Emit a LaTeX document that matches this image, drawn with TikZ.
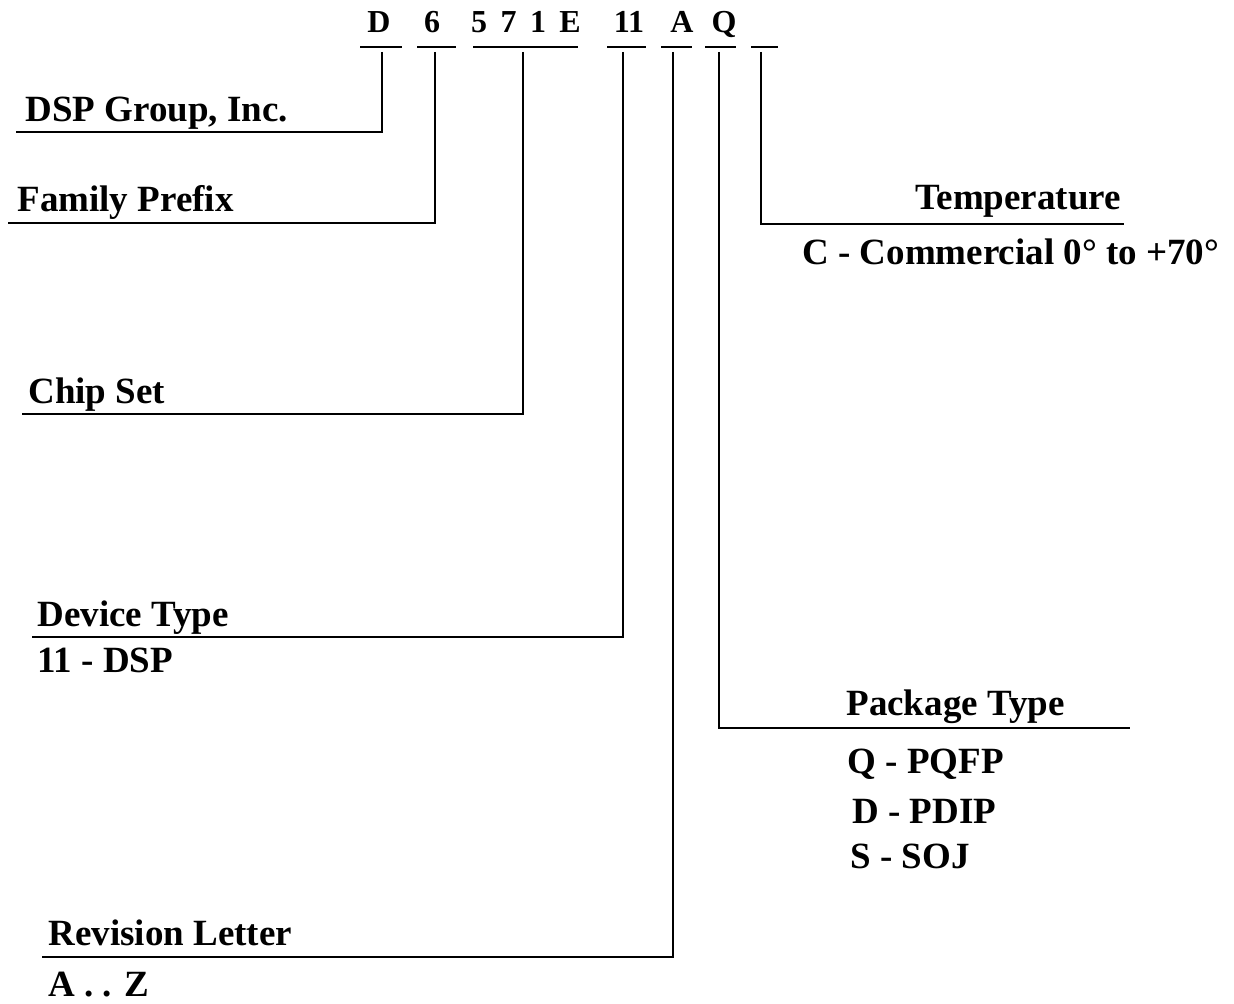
\documentclass[tikz,border=0pt]{standalone}
\usepackage{fontspec}
\setmainfont{Liberation Serif}
\begin{document}
\begin{tikzpicture}[x=0.5pt,y=-0.5pt,
  lbl/.style={anchor=base west, inner sep=0pt, font=\fontsize{18.5}{22}\selectfont\bfseries},
  toplet/.style={anchor=base, inner sep=0pt, font=\fontsize{16}{19}\selectfont\bfseries},
  uline/.style={line width=1pt},
  lead/.style={line width=1pt, line join=miter}]
\useasboundingbox (0,0) rectangle (1234,1004);

% top part number letters
\node[toplet] (pD) at (379,33) {D};
\node[toplet] (p6) at (432,33) {6};
\node[toplet, font={\fontsize{16}{19}\selectfont\bfseries\spaceskip=0.42em\relax}] (p571) at (526,33) {5 7 1 E};
\node[toplet] (p11) at (629,33) {11};
\node[toplet] (pA) at (682,33) {A};
\node[toplet] (pQ) at (724,33) {Q};

% underlines
\coordinate (u1a) at (360,47); \coordinate (u1b) at (402,47);
\coordinate (u2a) at (417,47); \coordinate (u2b) at (456,47);
\coordinate (u3a) at (473,47); \coordinate (u3b) at (578,47);
\coordinate (u4a) at (607,47); \coordinate (u4b) at (646,47);
\coordinate (u5a) at (661,47); \coordinate (u5b) at (692,47);
\coordinate (u6a) at (705,47); \coordinate (u6b) at (736,47);
\coordinate (u7a) at (751,47); \coordinate (u7b) at (778,47);
\foreach \i in {1,...,7} {\draw[uline] (u\i a) -- (u\i b);}

% leader coordinates
\coordinate (t1) at (382,52); \coordinate (c1) at (382,132); \coordinate (e1) at (16,132);
\coordinate (t2) at (435,52); \coordinate (c2) at (435,223); \coordinate (e2) at (8,223);
\coordinate (t3) at (523,52); \coordinate (c3) at (523,414); \coordinate (e3) at (22,414);
\coordinate (t4) at (623,52); \coordinate (c4) at (623,637); \coordinate (e4) at (32,637);
\coordinate (t5) at (673,52); \coordinate (c5) at (673,957); \coordinate (e5) at (42,957);
\coordinate (t6) at (719,52); \coordinate (c6) at (719,728); \coordinate (e6) at (1130,728);
\coordinate (t7) at (761,52); \coordinate (c7) at (761,224); \coordinate (e7) at (1124,224);
\foreach \i in {1,...,7} {\draw[lead] (t\i) -- (c\i) -- (e\i);}

% labels
\node[lbl] (lDSP) at (25,122) {DSP Group, Inc.};
\node[lbl] (lFam) at (17,212) {Family Prefix};
\node[lbl] (lChip) at (28,404) {Chip Set};
\node[lbl] (lDev) at (37,626) {Device Type};
\node[lbl] (lDevV) at (37,672) {11 - DSP};
\node[lbl] (lRev) at (48,945) {Revision Letter};
\node[lbl] (lRevV) at (48,996) {A . . Z};
\node[lbl] (lTemp) at (915,210) {Temperature};
\node[lbl] (lTempV) at (802,265) {C - Commercial 0° to +70°};
\node[lbl] (lPkg) at (846,715) {Package Type};
\node[lbl] (lPkgQ) at (847,773) {Q - PQFP};
\node[lbl] (lPkgD) at (852,823) {D - PDIP};
\node[lbl] (lPkgS) at (850,868) {S - SOJ};
\end{tikzpicture}
\end{document}
